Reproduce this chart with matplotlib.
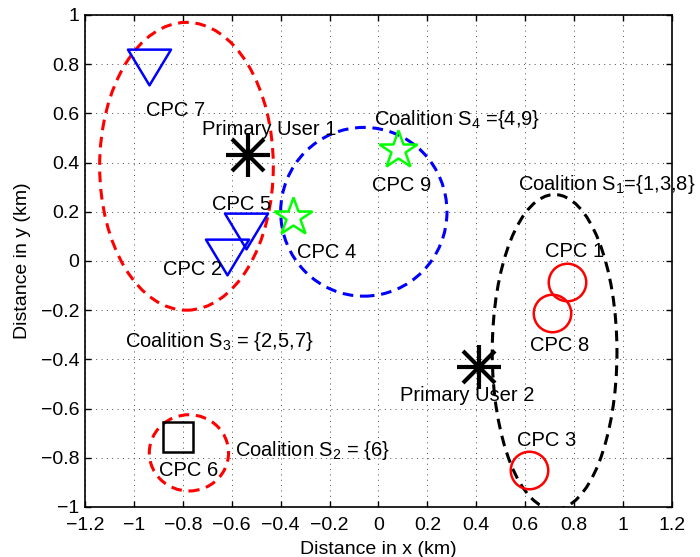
import numpy as np
import matplotlib
matplotlib.use("Agg")
import matplotlib.pyplot as plt
from matplotlib.patches import Ellipse
from matplotlib.path import Path

plt.rcParams['font.family'] = ['Liberation Sans', 'DejaVu Sans']
plt.rcParams['mathtext.default'] = 'regular'

# CPC positions (km), grouped by marker style
tri_x = [-0.94, -0.54, -0.62]        # CPC 7, 5, 2
tri_y = [0.79, 0.12, 0.016]
star_x = [-0.35, 0.08]               # CPC 4, 9
star_y = [0.18, 0.45]
circ_x = [0.77, 0.71, 0.615]         # CPC 1, 8, 3
circ_y = [-0.085, -0.21, -0.85]
sq_x = [-0.82]                       # CPC 6
sq_y = [-0.715]

# primary users
pu_x = [-0.534, 0.41]
pu_y = [0.43, -0.43]

# coalition boundaries: centre x, centre y, semi-axis x, semi-axis y, colour
coal_cx = [0.72, -0.775, -0.785, -0.06]
coal_cy = [-0.37, -0.78, 0.385, 0.20]
coal_ax = [0.255, 0.162, 0.355, 0.34]
coal_ay = [0.64, 0.155, 0.585, 0.343]
coal_col = ['black', 'red', 'red', 'blue']

# annotations (left, baseline)
lbl_text = ['CPC 7', 'Primary User 1', 'CPC 5', 'CPC 2', 'CPC 4',
            'Coalition S$_4$ ={4,9}', 'CPC 9', 'Coalition S$_1$={1,3,8}',
            'CPC 1', 'CPC 8', 'Primary User 2', 'CPC 3',
            'Coalition S$_3$ = {2,5,7}', 'Coalition S$_2$ = {6}', 'CPC 6']
lbl_x = [-0.95, -0.72, -0.68, -0.88, -0.333, -0.018, -0.027, 0.57,
         0.68, 0.62, 0.088, 0.566, -1.036, -0.587, -0.897]
lbl_y = [0.59, 0.512, 0.207, -0.057, 0.012, 0.553, 0.285, 0.289,
         0.016, -0.366, -0.57, -0.752, -0.35, -0.793, -0.874]

xticks = np.round(np.arange(-1.2, 1.21, 0.2), 1) + 0.0
yticks = np.round(np.arange(-1.0, 1.01, 0.2), 1) + 0.0


def tick_fmt(vals):
    return [f'{v:g}'.replace('-', '\u2212') for v in vals]


tri_down = Path([(-1, 0.83), (1, 0.83), (0, -0.83), (-1, 0.83)],
                [Path.MOVETO, Path.LINETO, Path.LINETO, Path.CLOSEPOLY])

fig = plt.figure(figsize=(7.0, 5.57), dpi=100)
ax = fig.add_axes([0.1214, 0.0898, 0.8386, 0.8833])

for cx, cy, a, b, c in zip(coal_cx, coal_cy, coal_ax, coal_ay, coal_col):
    ax.add_patch(Ellipse((cx, cy), 2 * a, 2 * b, fill=False, edgecolor=c,
                         linewidth=2.2, linestyle=(0, (3.5, 2.2)), zorder=3))

ax.plot(tri_x, tri_y, ls='none', marker=tri_down, ms=31, mfc='none',
        mec='blue', mew=1.8, zorder=4)
ax.plot(star_x, star_y, ls='none', marker='*', ms=29, mfc='none',
        mec='#00ff00', mew=1.8, zorder=4)
ax.plot(circ_x, circ_y, ls='none', marker='o', ms=27, mfc='none',
        mec='red', mew=1.8, zorder=4)
ax.plot(sq_x, sq_y, ls='none', marker='s', ms=21, mfc='none',
        mec='black', mew=1.8, zorder=4)
ax.plot(pu_x, pu_y, ls='none', marker='+', ms=31, mec='black', mew=3, zorder=4)
ax.plot(pu_x, pu_y, ls='none', marker='x', ms=23, mec='black', mew=3, zorder=4)

for t, x, y in zip(lbl_text, lbl_x, lbl_y):
    ax.text(x, y, t, fontsize=14.5, ha='left', va='baseline', zorder=5)

ax.set_xlim(-1.2, 1.2)
ax.set_ylim(-1, 1)
ax.set_xticks(xticks)
ax.set_yticks(yticks)
ax.set_xticklabels(tick_fmt(xticks))
ax.set_yticklabels(tick_fmt(yticks))
ax.tick_params(direction='in', length=4, width=1, top=True, right=True,
               labelsize=14)
ax.tick_params(axis='x', pad=7)
ax.tick_params(axis='y', pad=4)
for s in ax.spines.values():
    s.set_linewidth(1.2)
ax.grid(True, color='0.3', linewidth=0.7, linestyle=(0, (1, 4.5)))
ax.set_axisbelow(True)

ax.set_xlabel('Distance in x (km)', fontsize=14, labelpad=5)
ax.set_ylabel('Distance in y (km)', fontsize=14, labelpad=7)

fig.savefig('out.png', dpi=100)
